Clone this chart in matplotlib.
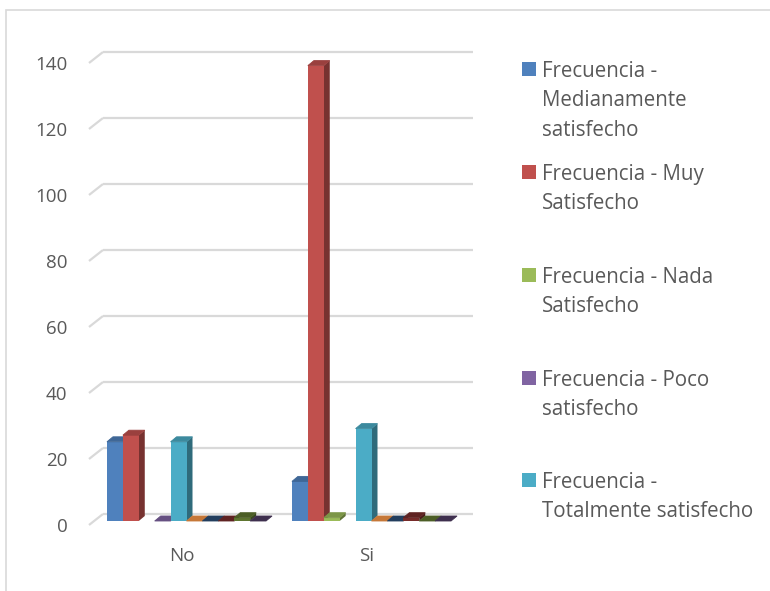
import numpy as np
import matplotlib
matplotlib.use("Agg")
import matplotlib.pyplot as plt
from matplotlib.patches import Polygon, Rectangle
from matplotlib.colors import to_rgb

plt.rcParams['font.family'] = ['Open Sans', 'DejaVu Sans']

# ---- data -------------------------------------------------------------
categories = ["No", "Si"]
series_names = [
    "Frecuencia - Medianamente satisfecho",
    "Frecuencia - Muy Satisfecho",
    "Frecuencia - Nada Satisfecho",
    "Frecuencia - Poco satisfecho",
    "Frecuencia - Totalmente satisfecho",
    "Serie 6", "Serie 7", "Serie 8", "Serie 9", "Serie 10",
]
legend_labels = [
    "Frecuencia -\nMedianamente\nsatisfecho",
    "Frecuencia - Muy\nSatisfecho",
    "Frecuencia - Nada\nSatisfecho",
    "Frecuencia - Poco\nsatisfecho",
    "Frecuencia -\nTotalmente satisfecho",
]
values_no = [24, 26, np.nan, 0, 24, 0, 0, 0, 1, 0]
values_si = [12, 138, 1, np.nan, 28, 0, 0, 1, 0, 0]
series_colors = ["#4F81BD", "#C0504D", "#9BBB59", "#8064A2", "#4BACC6",
                 "#F79646", "#2C4D75", "#772C2A", "#5F7530", "#4D3B62"]
yticks = [0, 20, 40, 60, 80, 100, 120, 140]

# ---- figure -----------------------------------------------------------
W, H = 770, 591
fig = plt.figure(figsize=(W / 100, H / 100), dpi=100)
fig.patch.set_facecolor("white")

# outer chart frame
fig.patches.append(Rectangle((6 / W, -0.1), 1.2, (H - 10) / H + 0.1,
                             transform=fig.transFigure, fill=False,
                             edgecolor="#D9D9D9", linewidth=1.2))

# front plane of the floor: x 89..459 px, y 525 (0) .. 63 (140) px
ax = fig.add_axes([89 / W, (H - 525) / H, 370 / W, 462 / H])
ax.set_xlim(-0.5, 1.5)
ax.set_ylim(0, 140)
for s in ax.spines.values():
    s.set_visible(False)
ax.patch.set_alpha(0)

px_x = 370 / 2.0     # pixels per x data unit
px_y = 462 / 140.0   # pixels per y data unit

def shade(c, f):
    r, g, b = to_rgb(c)
    return (r * f, g * f, b * f)

# back wall gridlines with the slanted floor stubs
back_dx, back_dy = 14 / px_x, 11 / px_y
grid_c = "#D9D9D9"
for v in yticks:
    ax.plot([-0.5 + back_dx, 1.5 + back_dx], [v + back_dy, v + back_dy],
            color=grid_c, lw=1.6, solid_capstyle="butt", zorder=1, clip_on=False)
    ax.plot([-0.5, -0.5 + back_dx], [v, v + back_dy],
            color=grid_c, lw=1.6, solid_capstyle="butt", zorder=1, clip_on=False)

# 3-D columns
n = len(series_names)
group_w = 0.86
w = group_w / n
fx, fy = 5 / px_x, 4 / px_y      # offset of the bar front faces
ddx, ddy = 6 / px_x, 5 / px_y    # bar depth

for ci, vals in enumerate([values_no, values_si]):
    for si in range(n):
        v = vals[si]
        if np.isnan(v):
            continue
        col = series_colors[si]
        x0 = ci - group_w / 2 + si * w + fx
        x1 = x0 + w
        y0 = fy
        y1 = fy + v
        z = 2 + ci * 30 + si * 2
        # side face
        ax.add_patch(Polygon([(x1, y0), (x1 + ddx, y0 + ddy), (x1 + ddx, y1 + ddy), (x1, y1)],
                             closed=True, facecolor=shade(col, 0.62), edgecolor="none",
                             zorder=z, clip_on=False))
        # front face
        ax.add_patch(Rectangle((x0, y0), w, v, facecolor=col, edgecolor="none",
                               zorder=z + 1, clip_on=False))
        # top face
        ax.add_patch(Polygon([(x0, y1), (x1, y1), (x1 + ddx, y1 + ddy), (x0 + ddx, y1 + ddy)],
                             closed=True, facecolor=shade(col, 0.8),
                             edgecolor=shade(col, 0.8), linewidth=0.6,
                             zorder=z + 1, clip_on=False))

text_c = "#595959"
ax.set_yticks(yticks)
ax.set_yticklabels([str(t) for t in yticks])
ax.set_xticks([0, 1])
ax.set_xticklabels(categories)
ax.tick_params(axis="y", length=0, pad=15.5, labelsize=13.5, labelcolor=text_c)
ax.tick_params(axis="x", length=0, pad=16, labelsize=13.5, labelcolor=text_c)

# legend (first five series)
item_tops = [69, 172, 275, 378, 480]
for lab, col, yc in zip(legend_labels, series_colors[:5], item_tops):
    fig.patches.append(Rectangle((522 / W, 1 - (yc + 7) / H), 14 / W, 14 / H,
                                 transform=fig.transFigure, facecolor=col,
                                 edgecolor="none"))
    fig.text(542 / W, 1 - (yc - 8) / H, lab, ha="left", va="top",
             fontsize=14.8, color=text_c, linespacing=1.52)

fig.savefig("out.png", dpi=100)
